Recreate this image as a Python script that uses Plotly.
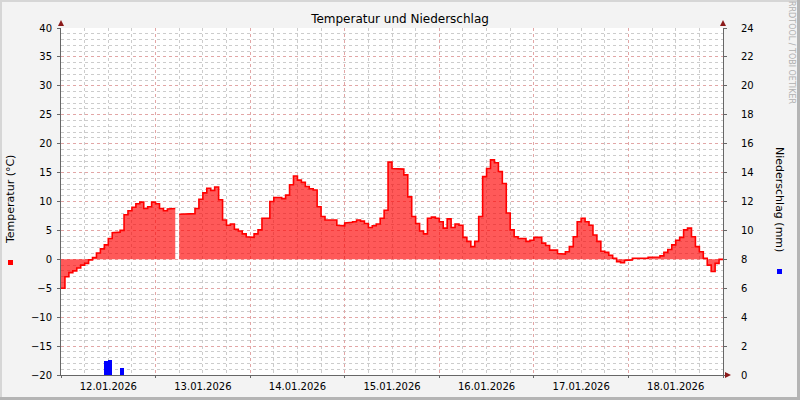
import plotly.graph_objects as go
import pandas as pd

# ---------------- data ----------------
start_time = "2026-01-12 00:00"
# hourly temperature (°C), None = missing sample
temp_c = [
    -5.0, -3.0, -2.3, -2.0, -1.5, -1.0, -0.7, -0.1, 0.3, 1.1,
    1.8, 2.5, 3.6, 4.6, 4.7, 5.0, 7.7, 8.4, 9.0, 9.6,
    9.9, 8.8, 9.1, 9.9, 9.6, 8.8, 8.4, 8.7, 8.8, None,
    7.8, 7.8, 7.8, 7.9, 8.8, 10.4, 11.5, 12.3, 11.9, 12.5,
    10.3, 6.8, 5.9, 6.1, 5.2, 4.9, 4.4, 3.9, 3.8, 4.4,
    5.1, 7.1, 7.1, 10.0, 10.7, 10.7, 10.5, 11.1, 12.9, 14.4,
    13.7, 13.3, 12.6, 12.2, 12.0, 9.1, 7.4, 6.8, 6.7, 6.8,
    5.9, 5.8, 6.3, 6.4, 6.5, 6.8, 6.6, 6.2, 5.5, 5.8,
    6.1, 7.1, 8.5, 16.8, 15.7, 15.7, 15.6, 14.6, 10.8, 7.4,
    6.2, 4.9, 4.4, 7.1, 7.3, 7.1, 6.5, 5.4, 7.0, 5.5,
    6.1, 5.9, 3.8, 3.1, 2.2, 3.1, 7.4, 14.3, 15.7, 17.2,
    16.7, 15.2, 13.1, 8.0, 5.1, 3.9, 3.6, 3.6, 3.1, 3.3,
    3.8, 3.8, 2.8, 2.4, 1.6, 1.6, 1.0, 0.9, 1.3, 2.2,
    3.9, 6.5, 7.1, 6.5, 5.9, 4.2, 3.1, 1.4, 1.2, 0.7,
    0.2, -0.4, -0.6, -0.2, -0.1, 0.2, 0.2, 0.2, 0.2, 0.35,
    0.35, 0.4, 0.6, 1.2, 1.7, 2.5, 3.3, 3.8, 5.1, 5.4,
    3.9, 2.2, 1.3, 0.2, -1.0, -2.1, -0.7, 0.0,
]
# precipitation (mm) per hour: hour index since start, amount
precip_hour = [11, 12, 15]
precip_mm = [0.95, 1.05, 0.5]

title_text = "Temperatur und Niederschlag"
left_title = "Temperatur (°C)"
right_title = "Niederschlag (mm)"
watermark = "RRDTOOL / TOBI OETIKER"

# ---------------- build step segments (split at missing samples) ----------------
t0 = pd.Timestamp(start_time)
hour = pd.Timedelta(hours=1)
n_hours = len(temp_c)
segments = []
cur_x, cur_y = [], []
for i, v in enumerate(temp_c):
    a = t0 + i * hour
    if v is None:
        if cur_x:
            segments.append((cur_x, cur_y))
        cur_x, cur_y = [], []
        continue
    cur_x += [a, a + hour]
    cur_y += [v, v]
if cur_x:
    segments.append((cur_x, cur_y))

px_x = [t0 + h * hour + hour / 2 for h in precip_hour]

# minor grid every 6 h, skipping midnights (major grid)
minor_x = [t0 + h * hour for h in range(0, n_hours + 1, 6) if h % 24 != 0]

W, H = 800, 400
L, R, T, B = 61, 77, 28, 25
PW, PH = W - L - R, H - T - B


def p(xp, yp):
    return (xp - L) / PW, (H - B - yp) / PH


fig = go.Figure()
for sx, sy in segments:
    fig.add_trace(go.Scatter(
        x=sx, y=sy, mode="lines", line=dict(color="#ff0000", width=1.6),
        fill="tozeroy", fillcolor="rgba(255,0,0,0.65)",
        hoverinfo="skip", showlegend=False))
fig.add_trace(go.Bar(
    x=px_x, y=precip_mm, yaxis="y2", width=3600000,
    marker=dict(color="#0000ff", line=dict(width=0)), showlegend=False))

font = dict(family="DejaVu Sans", size=10, color="#000")
major = "#e2a6a6"
minor = "#cccccc"

fig.update_layout(
    width=W, height=H,
    margin=dict(l=L, r=R, t=T, b=B, pad=0, autoexpand=False),
    paper_bgcolor="#f3f3f3", plot_bgcolor="#ffffff",
    font=font, bargap=0,
    title=dict(text=title_text, x=0.5, xref="container", xanchor="center",
               y=1 - 19 / H, yref="container", yanchor="middle",
               font=dict(family="DejaVu Sans", size=12, color="#000")),
    xaxis=dict(
        type="date",
        range=[t0, t0 + n_hours * hour],
        tick0=t0, dtick=86400000, tickformat="%d.%m.%Y", ticklabelmode="period",
        showgrid=True, gridcolor=major, griddash="dot", gridwidth=1,
        minor=dict(tickmode="array", tickvals=minor_x, showgrid=True, gridcolor=minor,
                   griddash="dot", ticks=""),
        showline=True, linecolor="#666", linewidth=1,
        ticks="outside", ticklen=2, tickcolor="#666",
        zeroline=False, tickfont=font,
    ),
    yaxis=dict(
        range=[-20, 40], tick0=0, dtick=5,
        showgrid=True, gridcolor=major, griddash="dot", gridwidth=1,
        minor=dict(dtick=1, showgrid=True, gridcolor=minor, griddash="dot"),
        showline=True, linecolor="#666", linewidth=1,
        ticks="outside", ticklen=3, tickcolor="#666",
        zeroline=False, tickfont=font, ticklabelstandoff=3,
    ),
    yaxis2=dict(
        range=[0, 24], tick0=0, dtick=2, overlaying="y", side="right",
        showgrid=False, zeroline=False,
        showline=True, linecolor="#666", linewidth=1,
        ticks="outside", ticklen=3, tickcolor="#666",
        tickfont=font, ticklabelstandoff=12,
    ),
)

# axis titles and watermark
ax, ay = p(10, 200)
fig.add_annotation(text=left_title, x=ax, y=ay, xref="paper", yref="paper",
                   xanchor="center", yanchor="middle",
                   textangle=-90, showarrow=False, font=dict(family="DejaVu Sans", size=11, color="#000"))
ax, ay = p(780, 199)
fig.add_annotation(text=right_title, x=ax, y=ay, xref="paper", yref="paper",
                   xanchor="center", yanchor="middle",
                   textangle=90, showarrow=False, font=dict(family="DejaVu Sans", size=11, color="#000"))
ax, ay = p(792, 52)
fig.add_annotation(text=watermark, x=ax, y=ay, xref="paper", yref="paper",
                   xanchor="center", yanchor="middle",
                   textangle=90, showarrow=False, font=dict(family="DejaVu Sans", size=8, color="#b0b0b0"))

shapes = []


def rect(x0, y0, x1, y1, color):
    a, b = p(x0, y0)
    c, d = p(x1, y1)
    shapes.append(dict(type="rect", xref="paper", yref="paper", x0=a, x1=c, y0=b, y1=d,
                       fillcolor=color, line=dict(width=0), layer="above"))


def tri(pts, color="#8b1a1a"):
    path = ""
    for k, (xp, yp) in enumerate(pts):
        a, b = p(xp, yp)
        path += ("M" if k == 0 else "L") + f"{a},{b} "
    shapes.append(dict(type="path", xref="paper", yref="paper", path=path + "Z",
                       fillcolor=color, line=dict(width=0), layer="above"))


# legend squares
rect(8, 260, 13, 265, "#ff0000")
rect(777, 269, 782, 274, "#0000ff")
# axis arrows
tri([(58, 26), (64, 26), (61, 20)])
tri([(720, 26), (726, 26), (723, 20)])
tri([(725, 372), (725, 378), (731, 375)])
# outer frame
rect(0, 0, 800, 2, "#d6d6d6")
rect(0, 0, 2, 400, "#d6d6d6")
rect(0, 397, 800, 400, "#b4b4b4")
rect(797, 0, 800, 400, "#b4b4b4")
fig.update_layout(shapes=shapes)

fig.write_html("out.html", config={"displayModeBar": False},
               post_script="document.body.style.margin='0';document.body.style.padding='0';")
